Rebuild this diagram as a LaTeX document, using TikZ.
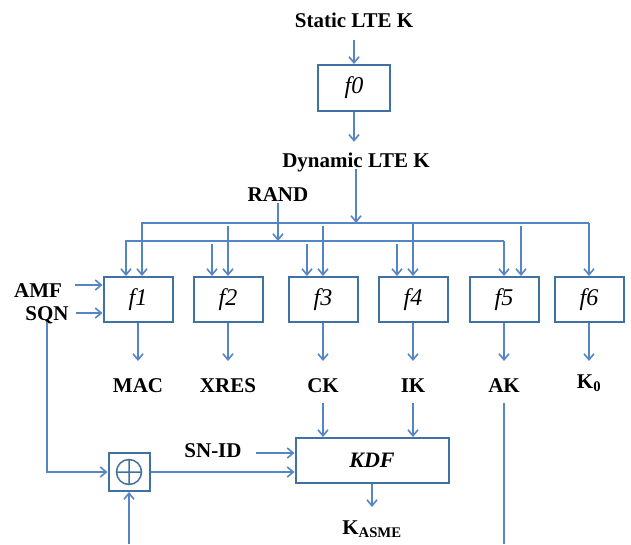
\documentclass[tikz,border=0pt]{standalone}
\usepackage{fontspec}
\setmainfont{Liberation Serif}
\usetikzlibrary{arrows.meta}

\definecolor{linkblue}{RGB}{84,134,197}
\definecolor{boxblue}{RGB}{65,113,163}

\begin{document}
\begin{tikzpicture}[x=1pt,y=-1pt]
  \tikzstyle{block}=[draw=boxblue, line width=2pt, minimum width=69pt, minimum height=45pt, inner sep=0pt, font=\fontsize{24}{28}\selectfont\itshape]
  \tikzstyle{lbl}=[font=\fontsize{21}{25}\selectfont\bfseries, text height=14pt, text depth=0pt, inner sep=2pt]
  \tikzstyle{wire}=[draw=linkblue, line width=1.6pt]
  \tikzstyle{arr}=[wire, -{Straight Barb[length=6pt,width=10pt]}]
  \tikzstyle{tap}=[shorten <=3pt]

  \useasboundingbox (0,0) rectangle (631,544);

  % key generation
  \node[lbl]   (static) at (354, 20.5) {Static LTE K};
  \node[block, minimum width=72pt, minimum height=46pt] (f0) at (354, 88) {f0};
  \node[lbl]   (dyn)    at (356, 160)  {Dynamic LTE K};
  \node[lbl]   (rand)   at (278, 194)  {RAND};

  \draw[arr, shorten <=10pt] (static.south) -- (f0.north);
  \draw[arr, shorten >=9pt]  (f0.south) -- (f0.south |- dyn.north);

  % functions
  \node[block] (f1) at (138, 299.5) {f1};
  \node[block] (f2) at (228, 299.5) {f2};
  \node[block] (f3) at (323, 299.5) {f3};
  \node[block] (f4) at (413, 299.5) {f4};
  \node[block] (f5) at (504, 299.5) {f5};
  \node[block] (f6) at (589, 299.5) {f6};

  \node[lbl] (amf)  at (38,  290) {AMF};
  \node[lbl] (sqn)  at (47,  313) {SQN};
  \node[lbl] (mac)  at (138, 385) {MAC};
  \node[lbl] (xres) at (228, 385) {XRES};
  \node[lbl] (ck)   at (323, 385) {CK};
  \node[lbl] (ik)   at (413, 385) {IK};
  \node[lbl] (ak)   at (504, 385) {AK};
  \node[lbl] (k0)   at (589, 381.5) {K\textsubscript{0}};

  % key and RAND buses
  \coordinate (upL) at (142, 223);
  \coordinate (upR) at (589, 223);
  \coordinate (loL) at (126, 241);
  \coordinate (loR) at (504, 241);

  \draw[arr] (dyn.south) -- (dyn.south |- upR);
  \draw[arr] (rand.south) -- (rand.south |- loR);

  \draw[arr] (upR) -- (upL) -- (upL |- f1.north);
  \draw[arr] (upR) -- (f6.north);
  \draw[arr] (loR) -- (loL) -- (loL |- f1.north);
  \draw[arr] (loR) -- (f5.north);

  \draw[arr, tap] (f2.north |- upR) -- (f2.north);
  \draw[arr, tap] (f3.north |- upR) -- (f3.north);
  \draw[arr]      (f4.north |- upR) -- (f4.north);
  \draw[arr, tap] ([xshift=17pt]f5.north |- upR) -- ([xshift=17pt]f5.north);
  \foreach \f in {f2,f3,f4}
    \draw[arr, tap] ([xshift=-16pt]\f.north |- loR) -- ([xshift=-16pt]\f.north);

  \draw[arr, shorten <=11pt] ([yshift=5pt]amf.east) -- ([yshift=5pt]amf.east -| f1.west);
  \draw[arr, shorten <=5pt]  (sqn.east) -- (sqn.east -| f1.west);

  \foreach \f in {f1,f2,f3,f4,f5,f6}
    \draw[arr] (\f.south) -- ++(0,38);

  % KASME derivation
  \node[draw=boxblue, line width=2pt, minimum width=41pt, minimum height=38pt] (xor) at (129, 472) {};
  \draw[boxblue, line width=1.5pt] (xor.center) circle (12.5pt)
    (xor.center) ++(-12.5,0) -- ++(25,0)
    (xor.center) ++(0,-12.5) -- ++(0,25);
  \node[lbl] (snid) at (213, 450) {SN-ID};
  \node[block, minimum width=153pt, font=\fontsize{22}{26}\selectfont\bfseries\itshape] (kdf) at (372, 460.5) {KDF};
  \node[lbl] (kasme) at (372, 527) {K\textsubscript{ASME}};

  \coordinate (xin)   at (129, 544);
  \coordinate (akout) at (504, 544);

  \draw[arr] (sqn.south) -- (sqn.south |- xor.west) -- (xor.west);
  \draw[arr] (xin) -- (xor.south);
  \draw[arr] (xor.east) -- (xor.east -| kdf.west);
  \draw[arr, shorten <=12pt] ([yshift=-3pt]snid.east) -- ([yshift=-3pt]snid.east -| kdf.west);
  \draw[arr, shorten <=9pt] (ck.south) -- (ck.south |- kdf.north);
  \draw[arr, shorten <=9pt] (ik.south) -- (ik.south |- kdf.north);
  \draw[wire, shorten <=9pt] (ak.south) -- (akout);
  \draw[arr] (kdf.south) -- ++(0,23);
\end{tikzpicture}
\end{document}
